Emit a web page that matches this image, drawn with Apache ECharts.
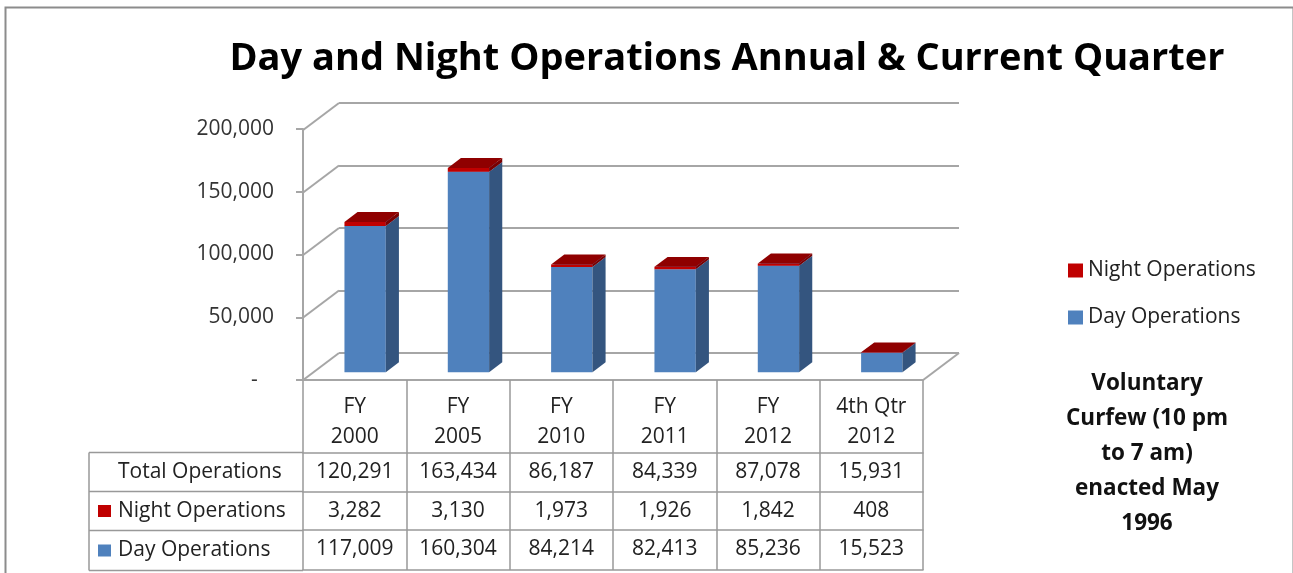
<!DOCTYPE html>
<html>
<head>
<meta charset="utf-8">
<script src="https://cdn.jsdelivr.net/npm/echarts@6/dist/echarts.min.js"></script>
<style>
  html, body { margin: 0; padding: 0; background: #fff; }
  #chart { width: 1293px; height: 573px; }
</style>
</head>
<body>
<div id="chart"></div>
<script>
// data
var categories = ['FY\n2000', 'FY\n2005', 'FY\n2010', 'FY\n2011', 'FY\n2012', '4th Qtr\n2012'];
var nightOps = [3282, 3130, 1973, 1926, 1842, 408];
var dayOps = [117009, 160304, 84214, 82413, 85236, 15523];
var totalOps = [120291, 163434, 86187, 84339, 87078, 15931];
var yTicks = [0, 50000, 100000, 150000, 200000];
var rowNames = ['Total Operations', 'Night Operations', 'Day Operations'];
var noteText = 'Voluntary\nCurfew (10 pm\nto 7 am)\nenacted May\n1996';

var FONT = 'Open Sans';
var FS = 21;
var GRID_LINE = '#a6a6a6';
var TABLE_LINE = '#999';
var DX = 36.5, DY = 27.5; // depth of the floor (back wall -> front edge)

function fmt(v) {
    return v.toLocaleString('en-US');
}

// 3D-looking box: front face, side face, top face
function boxItem(colors) {
    return function (params, api) {
        var i = api.value(0), lo = api.value(1), hi = api.value(2);
        var top = api.coord([i, hi]);
        var bot = api.coord([i, lo]);
        var w = api.size([1, 0])[0] * 0.40;
        var fx = top[0] - DX * 0.70 - w / 2;
        var fy0 = top[1] + DY * 0.70;
        var fy1 = bot[1] + DY * 0.70;
        var ddx = DX * 0.36, ddy = DY * 0.36;
        return {
            type: 'group',
            children: [
                { type: 'rect', shape: { x: fx, y: fy0, width: w, height: fy1 - fy0 }, style: { fill: colors[0] } },
                { type: 'polygon', shape: { points: [[fx + w, fy0], [fx + w + ddx, fy0 - ddy], [fx + w + ddx, fy1 - ddy], [fx + w, fy1]] }, style: { fill: colors[1] } },
                { type: 'polygon', shape: { points: [[fx, fy0], [fx + w, fy0], [fx + w + ddx, fy0 - ddy], [fx + ddx, fy0 - ddy]] }, style: { fill: colors[2] } }
            ]
        };
    };
}

// diagonal lines from the back wall to the front axis
function wallItem(params, api) {
    var cs = params.coordSys;
    var p = api.coord([0, api.value(1)]);
    var ls = { stroke: GRID_LINE, lineWidth: 2 };
    var children = [
        { type: 'line', shape: { x1: cs.x, y1: p[1], x2: cs.x - DX, y2: p[1] + DY }, style: ls }
    ];
    if (api.value(1) === 0) {
        children.push({ type: 'line', shape: { x1: cs.x + cs.width, y1: p[1], x2: cs.x + cs.width - DX, y2: p[1] + DY }, style: ls });
    }
    return { type: 'group', children: children };
}

var dayData = [], nightData = [];
for (var k = 0; k < categories.length; k++) {
    dayData.push([k, 0, dayOps[k]]);
    nightData.push([k, dayOps[k], dayOps[k] + nightOps[k]]);
}

// table rows as extra x axes under the front grid
var tableRows = [totalOps, nightOps, dayOps];
var rowOffsets = [72.5, 111.5, 150];
var tableAxes = tableRows.map(function (row, r) {
    return {
        type: 'category', gridIndex: 1, position: 'bottom', offset: rowOffsets[r],
        data: row.map(fmt),
        axisLine: { show: true, lineStyle: { color: TABLE_LINE, width: 1.5 } },
        axisTick: { show: true, interval: 0, length: rowOffsets[r + 1] ? rowOffsets[r + 1] - rowOffsets[r] : 40, lineStyle: { color: TABLE_LINE, width: 1.5 } },
        axisLabel: { interval: 0, margin: 9, fontFamily: FONT, fontSize: FS, color: '#222' }
    };
});
tableAxes.push({
    type: 'category', gridIndex: 1, position: 'bottom', offset: 190,
    data: categories,
    axisLine: { show: true, lineStyle: { color: TABLE_LINE, width: 1.5 } },
    axisTick: { show: false }, axisLabel: { show: false }
});

// left block of the table (row headers)
var tableLeft = 89, tableCol = 303;
var rowYs = [452.5, 491.5, 530.5, 570.5];
var rowMarks = [null, '#C00000', '#4F81BD'];
var tableGraphics = [];
rowYs.forEach(function (y) {
    tableGraphics.push({ type: 'line', shape: { x1: tableLeft, y1: y, x2: tableCol, y2: y }, style: { stroke: TABLE_LINE, lineWidth: 1.5 } });
});
tableGraphics.push({ type: 'line', shape: { x1: tableLeft, y1: rowYs[0], x2: tableLeft, y2: rowYs[3] }, style: { stroke: TABLE_LINE, lineWidth: 1.5 } });
rowNames.forEach(function (name, r) {
    var cy = (rowYs[r] + rowYs[r + 1]) / 2;
    if (rowMarks[r]) {
        tableGraphics.push({ type: 'rect', shape: { x: 98, y: cy - 6, width: 13, height: 12 }, style: { fill: rowMarks[r] } });
    }
    tableGraphics.push({ type: 'text', x: 118, y: cy, style: { text: name, fontFamily: FONT, fontSize: FS, fill: '#222', verticalAlign: 'middle' } });
});

var myChart = echarts.init(document.getElementById('chart'), null, { renderer: 'canvas' });
var option = {
    backgroundColor: '#fff',
    animation: false,
    title: {
        text: 'Day and Night Operations Annual & Current Quarter',
        left: 722, top: 35, textAlign: 'center',
        textStyle: { fontFamily: FONT, fontSize: 38, fontWeight: 'bold', color: '#000' }
    },
    legend: {
        data: ['Night Operations', 'Day Operations'],
        orient: 'vertical', left: 1068, top: 260, padding: 0,
        icon: 'rect', itemWidth: 15, itemHeight: 14, itemGap: 26,
        textStyle: { fontFamily: FONT, fontSize: FS, color: '#222', lineHeight: 21 }
    },
    grid: [
        { left: 339, top: 103, width: 620, height: 250 }, // back wall
        { left: 303, top: 129, width: 620, height: 251 }  // front axis / floor edge
    ],
    xAxis: [
        { type: 'category', gridIndex: 0, data: categories, show: false },
        {
            type: 'category', gridIndex: 1, data: categories,
            axisLine: { show: true, lineStyle: { color: GRID_LINE, width: 2 } },
            axisTick: { show: true, interval: 0, length: 72.5, lineStyle: { color: TABLE_LINE, width: 1.5 } },
            axisLabel: { interval: 0, margin: 12, fontFamily: FONT, fontSize: FS, lineHeight: 30, color: '#222' }
        }
    ].concat(tableAxes),
    yAxis: [
        {
            type: 'value', gridIndex: 0, min: 0, max: 200000, interval: 50000,
            axisLine: { show: false }, axisTick: { show: false }, axisLabel: { show: false },
            splitLine: { show: true, lineStyle: { color: GRID_LINE, width: 2 } }
        },
        {
            type: 'value', gridIndex: 1, min: 0, max: 200000, interval: 50000,
            axisLine: { show: true, lineStyle: { color: GRID_LINE, width: 2 } },
            axisTick: { show: true, length: 7, lineStyle: { color: GRID_LINE, width: 2 } },
            splitLine: { show: false },
            axisLabel: {
                margin: 29, fontFamily: FONT, fontSize: FS, color: '#333',
                formatter: function (v) { return v === 0 ? '-   ' : fmt(v); }
            }
        }
    ],
    series: [
        {
            name: 'walls', type: 'custom', xAxisIndex: 0, yAxisIndex: 0, silent: true, z: 1,
            data: yTicks.map(function (v) { return [0, v]; }),
            renderItem: wallItem
        },
        {
            name: 'Day Operations', type: 'custom', xAxisIndex: 0, yAxisIndex: 0, z: 3,
            itemStyle: { color: '#4F81BD' },
            data: dayData,
            renderItem: boxItem(['#4F81BD', '#34557f', '#6d97cc'])
        },
        {
            name: 'Night Operations', type: 'custom', xAxisIndex: 0, yAxisIndex: 0, z: 4,
            itemStyle: { color: '#C00000' },
            data: nightData,
            renderItem: boxItem(['#C00000', '#7a0000', '#8f0000'])
        }
    ],
    graphic: [
        { type: 'rect', left: 3, top: 5, shape: { width: 1288, height: 620 }, style: { fill: 'none', stroke: '#8c8c8c', lineWidth: 2 }, silent: true },
        { type: 'group', children: tableGraphics },
        {
            type: 'text', x: 1147, y: 366,
            style: { text: noteText, fontFamily: FONT, fontSize: 22.5, fontWeight: 'bold', lineHeight: 35, fill: '#111', align: 'center' }
        }
    ]
};
myChart.setOption(option);
window.addEventListener('resize', myChart.resize);
</script>
</body>
</html>
